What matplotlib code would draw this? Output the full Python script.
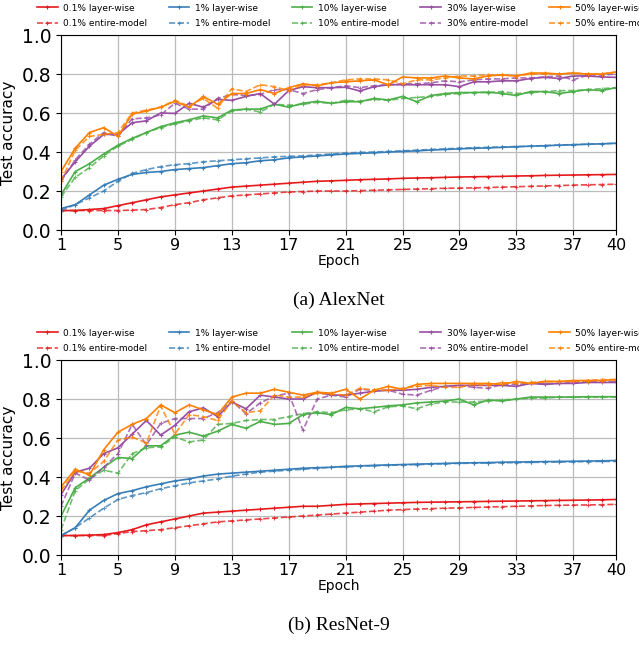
import numpy as np
import matplotlib
matplotlib.use("Agg")
import matplotlib.pyplot as plt

epochs = np.arange(1, 41)
percents = ["0.1%", "1%", "10%", "30%", "50%"]
colors = ["#e41a1c", "#377eb8", "#4daf4a", "#984ea3", "#ff7f00"]

# AlexNet
alex_layer = {
    "0.1%": [0.10, 0.10, 0.105, 0.11, 0.125, 0.14, 0.155, 0.17, 0.18, 0.19,
             0.20, 0.21, 0.22, 0.225, 0.23, 0.235, 0.24, 0.245, 0.25, 0.252,
             0.255, 0.258, 0.26, 0.262, 0.265, 0.267, 0.268, 0.27, 0.272, 0.273,
             0.274, 0.275, 0.277, 0.278, 0.28, 0.281, 0.282, 0.283, 0.284, 0.285],
    "1%": [0.11, 0.13, 0.18, 0.23, 0.26, 0.285, 0.295, 0.30, 0.31, 0.315,
           0.32, 0.33, 0.34, 0.345, 0.355, 0.36, 0.37, 0.375, 0.38, 0.385,
           0.39, 0.393, 0.396, 0.40, 0.403, 0.406, 0.41, 0.413, 0.416, 0.419,
           0.421, 0.424, 0.427, 0.43, 0.432, 0.435, 0.437, 0.44, 0.442, 0.445],
    "10%": [0.18, 0.30, 0.34, 0.39, 0.435, 0.47, 0.50, 0.53, 0.55, 0.565,
            0.585, 0.575, 0.615, 0.62, 0.62, 0.645, 0.63, 0.65, 0.66, 0.65,
            0.658, 0.658, 0.675, 0.667, 0.685, 0.658, 0.69, 0.70, 0.705, 0.705,
            0.707, 0.70, 0.69, 0.71, 0.71, 0.70, 0.71, 0.72, 0.715, 0.73],
    "30%": [0.26, 0.35, 0.43, 0.49, 0.49, 0.55, 0.56, 0.60, 0.598, 0.65,
            0.63, 0.67, 0.665, 0.685, 0.70, 0.645, 0.715, 0.735, 0.73, 0.73,
            0.732, 0.713, 0.735, 0.745, 0.745, 0.745, 0.745, 0.745, 0.735, 0.76,
            0.76, 0.765, 0.765, 0.777, 0.783, 0.777, 0.79, 0.79, 0.785, 0.783],
    "50%": [0.30, 0.42, 0.50, 0.525, 0.48, 0.595, 0.61, 0.63, 0.66, 0.63,
            0.685, 0.645, 0.70, 0.70, 0.72, 0.70, 0.73, 0.75, 0.74, 0.755,
            0.76, 0.765, 0.77, 0.745, 0.785, 0.78, 0.78, 0.79, 0.78, 0.775,
            0.79, 0.795, 0.79, 0.805, 0.805, 0.80, 0.805, 0.80, 0.80, 0.81],
}
alex_entire = {
    "0.1%": [0.10, 0.10, 0.10, 0.10, 0.10, 0.102, 0.105, 0.115, 0.13, 0.14,
             0.155, 0.165, 0.175, 0.18, 0.185, 0.19, 0.195, 0.197, 0.20, 0.20,
             0.20, 0.202, 0.204, 0.206, 0.208, 0.21, 0.212, 0.214, 0.215, 0.216,
             0.218, 0.22, 0.222, 0.224, 0.226, 0.228, 0.23, 0.232, 0.233, 0.235],
    "1%": [0.10, 0.13, 0.165, 0.20, 0.25, 0.29, 0.31, 0.325, 0.335, 0.34,
           0.35, 0.355, 0.36, 0.365, 0.37, 0.375, 0.378, 0.38, 0.385, 0.39,
           0.395, 0.398, 0.40, 0.403, 0.406, 0.41, 0.413, 0.416, 0.42, 0.422,
           0.424, 0.426, 0.428, 0.43, 0.433, 0.436, 0.438, 0.44, 0.442, 0.445],
    "10%": [0.17, 0.27, 0.32, 0.38, 0.43, 0.465, 0.50, 0.525, 0.545, 0.56,
            0.575, 0.565, 0.61, 0.62, 0.605, 0.645, 0.64, 0.645, 0.655, 0.65,
            0.665, 0.66, 0.67, 0.665, 0.675, 0.68, 0.685, 0.695, 0.70, 0.705,
            0.705, 0.71, 0.70, 0.705, 0.71, 0.715, 0.715, 0.72, 0.725, 0.73],
    "30%": [0.25, 0.36, 0.44, 0.50, 0.48, 0.57, 0.575, 0.59, 0.65, 0.62,
            0.62, 0.675, 0.695, 0.69, 0.695, 0.72, 0.72, 0.70, 0.72, 0.73,
            0.74, 0.73, 0.74, 0.745, 0.75, 0.75, 0.755, 0.765, 0.76, 0.77,
            0.775, 0.775, 0.78, 0.78, 0.785, 0.79, 0.77, 0.795, 0.795, 0.80],
    "50%": [0.25, 0.41, 0.48, 0.49, 0.50, 0.60, 0.615, 0.63, 0.665, 0.635,
            0.675, 0.625, 0.725, 0.71, 0.745, 0.735, 0.715, 0.745, 0.745, 0.755,
            0.77, 0.775, 0.775, 0.77, 0.75, 0.77, 0.77, 0.78, 0.79, 0.79,
            0.795, 0.795, 0.79, 0.80, 0.80, 0.80, 0.805, 0.80, 0.80, 0.81],
}

# ResNet-9
res_layer = {
    "0.1%": [0.10, 0.10, 0.102, 0.105, 0.115, 0.13, 0.155, 0.17, 0.185, 0.20,
             0.215, 0.22, 0.225, 0.23, 0.235, 0.24, 0.245, 0.25, 0.25, 0.255,
             0.26, 0.262, 0.264, 0.266, 0.268, 0.27, 0.271, 0.272, 0.273, 0.274,
             0.275, 0.276, 0.277, 0.278, 0.279, 0.28, 0.281, 0.282, 0.283, 0.285],
    "1%": [0.10, 0.14, 0.23, 0.28, 0.315, 0.33, 0.35, 0.365, 0.38, 0.39,
           0.405, 0.415, 0.42, 0.425, 0.43, 0.435, 0.44, 0.445, 0.448, 0.45,
           0.455, 0.457, 0.46, 0.462, 0.464, 0.466, 0.468, 0.47, 0.472, 0.473,
           0.474, 0.476, 0.477, 0.478, 0.479, 0.48, 0.481, 0.482, 0.483, 0.485],
    "10%": [0.20, 0.345, 0.395, 0.45, 0.50, 0.495, 0.56, 0.56, 0.615, 0.63,
            0.61, 0.635, 0.67, 0.65, 0.685, 0.67, 0.675, 0.72, 0.73, 0.72,
            0.757, 0.75, 0.757, 0.765, 0.77, 0.78, 0.785, 0.79, 0.80, 0.77,
            0.795, 0.79, 0.80, 0.81, 0.81, 0.81, 0.81, 0.812, 0.812, 0.812],
    "30%": [0.31, 0.425, 0.445, 0.52, 0.55, 0.62, 0.69, 0.615, 0.665, 0.735,
            0.755, 0.71, 0.785, 0.75, 0.82, 0.81, 0.80, 0.80, 0.835, 0.82,
            0.82, 0.83, 0.84, 0.845, 0.845, 0.85, 0.86, 0.865, 0.87, 0.87,
            0.87, 0.87, 0.865, 0.88, 0.875, 0.88, 0.88, 0.885, 0.885, 0.885],
    "50%": [0.35, 0.44, 0.41, 0.54, 0.63, 0.67, 0.70, 0.77, 0.73, 0.77,
            0.745, 0.72, 0.81, 0.83, 0.83, 0.85, 0.835, 0.82, 0.835, 0.83,
            0.85, 0.80, 0.845, 0.865, 0.85, 0.875, 0.88, 0.88, 0.88, 0.88,
            0.88, 0.875, 0.89, 0.88, 0.89, 0.89, 0.895, 0.895, 0.895, 0.90],
}
res_entire = {
    "0.1%": [0.10, 0.10, 0.10, 0.10, 0.11, 0.12, 0.125, 0.13, 0.14, 0.15,
             0.16, 0.17, 0.175, 0.18, 0.185, 0.19, 0.195, 0.20, 0.205, 0.21,
             0.215, 0.22, 0.225, 0.23, 0.233, 0.236, 0.238, 0.24, 0.242, 0.244,
             0.246, 0.248, 0.25, 0.252, 0.254, 0.255, 0.256, 0.257, 0.258, 0.26],
    "1%": [0.10, 0.14, 0.19, 0.24, 0.285, 0.305, 0.32, 0.34, 0.355, 0.37,
           0.38, 0.39, 0.405, 0.415, 0.425, 0.43, 0.435, 0.44, 0.445, 0.45,
           0.452, 0.455, 0.458, 0.46, 0.462, 0.464, 0.466, 0.468, 0.47, 0.471,
           0.472, 0.473, 0.474, 0.475, 0.476, 0.477, 0.478, 0.479, 0.48, 0.48],
    "10%": [0.13, 0.33, 0.39, 0.435, 0.42, 0.52, 0.55, 0.555, 0.605, 0.58,
            0.59, 0.67, 0.675, 0.69, 0.695, 0.695, 0.71, 0.725, 0.735, 0.73,
            0.745, 0.75, 0.735, 0.76, 0.765, 0.75, 0.775, 0.785, 0.785, 0.785,
            0.79, 0.795, 0.80, 0.805, 0.805, 0.81, 0.81, 0.81, 0.81, 0.81],
    "30%": [0.25, 0.42, 0.385, 0.45, 0.52, 0.67, 0.565, 0.675, 0.70, 0.70,
            0.70, 0.73, 0.79, 0.725, 0.78, 0.815, 0.83, 0.64, 0.80, 0.82,
            0.81, 0.85, 0.845, 0.845, 0.825, 0.82, 0.845, 0.865, 0.87, 0.86,
            0.855, 0.875, 0.875, 0.88, 0.88, 0.88, 0.885, 0.89, 0.89, 0.89],
    "50%": [0.33, 0.43, 0.42, 0.48, 0.59, 0.605, 0.575, 0.765, 0.62, 0.72,
            0.71, 0.69, 0.79, 0.73, 0.74, 0.82, 0.81, 0.81, 0.83, 0.825,
            0.82, 0.855, 0.845, 0.845, 0.855, 0.865, 0.87, 0.86, 0.86, 0.875,
            0.87, 0.885, 0.88, 0.885, 0.89, 0.89, 0.89, 0.895, 0.90, 0.90],
}

xticks = [1, 5, 9, 13, 17, 21, 25, 29, 33, 37, 40]
captions = ["(a) AlexNet", "(b) ResNet-9"]

fig = plt.figure(figsize=(6.39, 6.45), dpi=100)
ax_top = fig.add_axes([0.0955, 0.6434, 0.8685, 0.3023])
ax_bot = fig.add_axes([0.0955, 0.1395, 0.8685, 0.3023])

for ax, layer, entire, cap in [(ax_top, alex_layer, alex_entire, captions[0]),
                               (ax_bot, res_layer, res_entire, captions[1])]:
    for p, c in zip(percents, colors):
        ax.plot(epochs, layer[p], color=c, lw=1.2, marker="+", ms=3,
                mew=0.8, label=p + " layer-wise")
        ax.plot(epochs, entire[p], color=c, lw=1.2, ls="--", marker="+", ms=3,
                mew=0.8, alpha=0.8, label=p + " entire-model")
    ax.set_xlim(1, 40)
    ax.set_ylim(0, 1.0)
    ax.set_xticks(xticks)
    ax.set_yticks(np.arange(0, 1.01, 0.2))
    ax.tick_params(axis="y", labelsize=13.5)
    ax.tick_params(axis="x", labelsize=11.5, pad=2)
    ax.grid(True, color="#bbbbbb", lw=0.9)
    ax.set_axisbelow(True)
    ax.set_xlabel("Epoch", fontsize=10, labelpad=1)
    ax.set_ylabel("Test accuracy", fontsize=11)
    ax.legend(loc="lower left", bbox_to_anchor=(-0.045, 1.03, 1.12, 0.1),
              ncol=5, mode="expand", frameon=False, fontsize=6.5,
              handlelength=2.3, handletextpad=0.6, borderaxespad=0,
              borderpad=0.1, labelspacing=0.75, columnspacing=0.5)
    ax.text(0.5, -0.315, cap, transform=ax.transAxes, ha="center", va="top",
            fontsize=14, family="Liberation Serif")

fig.savefig("out.png", dpi=100)
